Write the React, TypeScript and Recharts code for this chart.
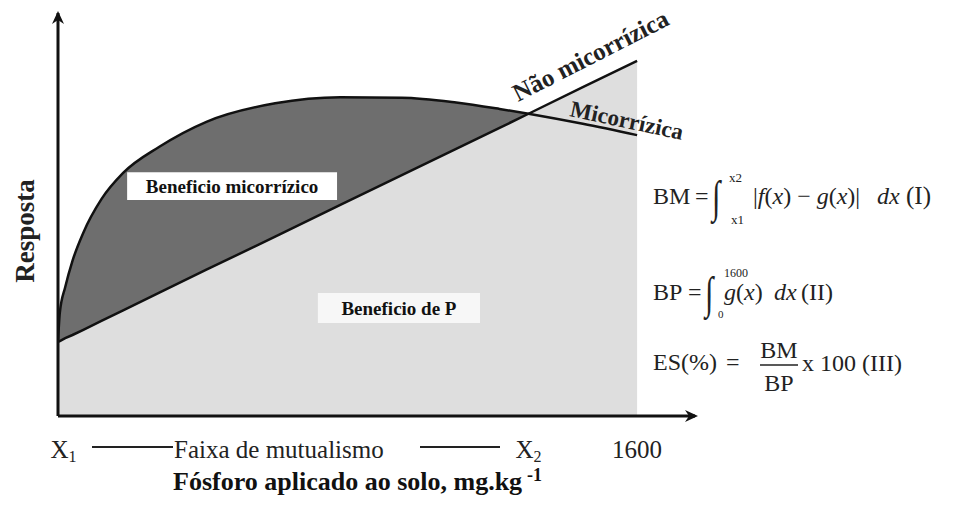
import {
  ComposedChart,
  Area,
  Line,
  XAxis,
  YAxis,
  ReferenceArea,
  ReferenceDot,
} from "recharts";

// P dose (mg/kg) and relative response
const phosphorus = [0, 5, 20, 40, 70, 120, 180, 280, 410, 600, 780, 950, 1100, 1220, 1300, 1450, 1600];
const mycorrhizal = [18.4, 25.6, 32, 38.5, 45.5, 53.8, 60.3, 66.8, 73.0, 77.6, 79.1, 79.0, 77.8, 76.2, 75.0, 72.5, 69.7];
const nonMycorrhizal = [18.4, 18.6, 19.3, 20.1, 21.4, 23.6, 26.2, 30.6, 36.3, 44.5, 52.4, 59.8, 66.3, 71.5, 75.0, 81.6, 88.1];

const X1 = 15;
const X2 = 1300;
const tickValues = [X1, X2, 1600];
const tickNames = ["X", "X", "1600"];
const tickSubs = ["1", "2", ""];

const SERIF = "'Liberation Serif', 'Times New Roman', serif";

const rows = phosphorus.map((p, i) => ({
  p,
  f: mycorrhizal[i],
  g: nonMycorrhizal[i],
  gain: p <= X2 ? [nonMycorrhizal[i], mycorrhizal[i]] : null,
}));

function XTick({ x, y, payload }: any) {
  const i = tickValues.indexOf(payload.value);
  return (
    <text x={x} y={y + 42} textAnchor="middle" fontFamily={SERIF} fontSize={25} fill="#222">
      {tickNames[i]}
      {tickSubs[i] && (
        <tspan fontSize={16} dy={4}>
          {tickSubs[i]}
        </tspan>
      )}
    </text>
  );
}

const RightArrow = ({ cx, cy }: any) => (
  <path d={`M${cx + 3},${cy} L${cx - 10},${cy - 6} L${cx - 6},${cy} L${cx - 10},${cy + 6} Z`} fill="#111" />
);
const UpArrow = ({ cx, cy }: any) => (
  <path d={`M${cx},${cy - 2} L${cx - 6},${cy + 11} L${cx},${cy + 7} L${cx + 6},${cy + 11} Z`} fill="#111" />
);

// tall, narrow integral sign
const Integral = ({ x, y }: { x: number; y: number }) => (
  <text
    fontFamily={SERIF}
    fill="#222"
    fontSize={30}
    transform={`translate(${x} ${y}) scale(1 1.5)`}
  >
    ∫
  </text>
);

function Annotations() {
  const txt = { fontFamily: SERIF, fill: "#222" };
  const it = { fontStyle: "italic" as const };
  return (
    <svg
      width={958}
      height={506}
      style={{ position: "absolute", left: 0, top: 0, pointerEvents: "none" }}
    >
      {/* y label */}
      <text {...txt} x={34} y={231} fontSize={27} fontWeight="bold" textAnchor="middle" transform="rotate(-90 34 231)">
        Resposta
      </text>
      {/* curve labels */}
      <text {...txt} x={518} y={102} fontSize={25} fontWeight="bold" transform="rotate(-27 518 102)">
        Não micorrízica
      </text>
      <text {...txt} x={569} y={116} fontSize={23} fontWeight="bold" transform="rotate(12 569 116)">
        Micorrízica
      </text>
      {/* mutualism range */}
      <line x1={92} x2={173} y1={447} y2={447} stroke="#222" strokeWidth={2} />
      <text {...txt} x={174} y={458} fontSize={25}>Faixa de mutualismo</text>
      <line x1={420} x2={500} y1={447} y2={447} stroke="#222" strokeWidth={2} />
      {/* x label */}
      <text {...txt} x={173} y={490} fontSize={26} fontWeight="bold" fill="#111">
        Fósforo aplicado ao solo, mg.kg
        <tspan fontSize={18} dx={5} dy={-9}>-1</tspan>
      </text>
      {/* formula I */}
      <text {...txt} x={653} y={204} fontSize={24}>BM</text>
      <text {...txt} x={695} y={204} fontSize={24}>=</text>
      <Integral x={712} y={212} />
      <text {...txt} x={729} y={182} fontSize={13}>x2</text>
      <text {...txt} x={731} y={224} fontSize={13}>x1</text>
      <text {...txt} x={753} y={204} fontSize={24}>
        |<tspan {...it}>f</tspan>(<tspan {...it}>x</tspan>) − <tspan {...it}>g</tspan>(<tspan {...it}>x</tspan>)|
      </text>
      <text {...txt} x={877} y={204} fontSize={24}>
        <tspan {...it}>dx</tspan>
      </text>
      <text {...txt} x={906} y={204} fontSize={25}>(I)</text>
      {/* formula II */}
      <text {...txt} x={653} y={300} fontSize={24}>BP</text>
      <text {...txt} x={688} y={300} fontSize={24}>=</text>
      <Integral x={705} y={308} />
      <text {...txt} x={724} y={277} fontSize={12}>1600</text>
      <text {...txt} x={718} y={318} fontSize={11}>0</text>
      <text {...txt} x={724} y={300} fontSize={24}>
        <tspan {...it}>g</tspan>(<tspan {...it}>x</tspan>)
      </text>
      <text {...txt} x={774} y={300} fontSize={24}>
        <tspan {...it}>dx</tspan>
      </text>
      <text {...txt} x={801} y={300} fontSize={24}>(II)</text>
      {/* formula III */}
      <text {...txt} x={653} y={370} fontSize={24}>ES(%)</text>
      <text {...txt} x={726} y={370} fontSize={24}>=</text>
      <text {...txt} x={779} y={358} fontSize={24} textAnchor="middle">BM</text>
      <line x1={760} x2={798} y1={365} y2={365} stroke="#222" strokeWidth={1.5} />
      <text {...txt} x={779} y={391} fontSize={24} textAnchor="middle">BP</text>
      <text {...txt} x={802} y={371} fontSize={24}>x 100 (III)</text>
    </svg>
  );
}

export default function App() {
  return (
    <div style={{ position: "absolute", left: 0, top: 0, width: 958, height: 506, background: "#fff" }}>
      <ComposedChart
        width={958}
        height={506}
        data={rows}
        margin={{ top: 13, right: 263, bottom: 60, left: 0 }}
      >
        <XAxis
          type="number"
          dataKey="p"
          domain={[0, 1760]}
          ticks={tickValues}
          tick={<XTick />}
          tickLine={false}
          tickSize={0}
          tickMargin={0}
          height={30}
          axisLine={{ stroke: "#111", strokeWidth: 3 }}
          allowDataOverflow
        />
        <YAxis
          type="number"
          domain={[0, 100]}
          width={58}
          tick={false}
          tickLine={false}
          axisLine={{ stroke: "#111", strokeWidth: 3 }}
        />
        <Area
          dataKey="g"
          type="linear"
          stroke="none"
          fill="#dedede"
          fillOpacity={1}
          isAnimationActive={false}
        />
        <Area
          dataKey="gain"
          type="monotoneX"
          stroke="none"
          fill="#6e6e6e"
          fillOpacity={1}
          isAnimationActive={false}
        />
        <ReferenceArea
          x1={191}
          x2={771}
          y1={53.6}
          y2={60.5}
          fill="#fff"
          fillOpacity={1}
          stroke="none"
          label={{ value: "Beneficio micorrízico", position: "center", fontFamily: SERIF, fontWeight: "bold", fontSize: 19, fill: "#111" }}
        />
        <ReferenceArea
          x1={718}
          x2={1166}
          y1={23.1}
          y2={30.5}
          fill="#fff"
          fillOpacity={0.75}
          stroke="none"
          label={{ value: "Beneficio de P", position: "center", fontFamily: SERIF, fontWeight: "bold", fontSize: 19, fill: "#111" }}
        />
        <Line dataKey="g" type="linear" stroke="#111" strokeWidth={2.5} dot={false} isAnimationActive={false} />
        <Line dataKey="f" type="monotoneX" stroke="#111" strokeWidth={2.5} dot={false} isAnimationActive={false} />
        <ReferenceDot x={1760} y={0} r={0} shape={<RightArrow />} ifOverflow="visible" />
        <ReferenceDot x={0} y={100} r={0} shape={<UpArrow />} ifOverflow="visible" />
      </ComposedChart>
      <Annotations />
    </div>
  );
}
